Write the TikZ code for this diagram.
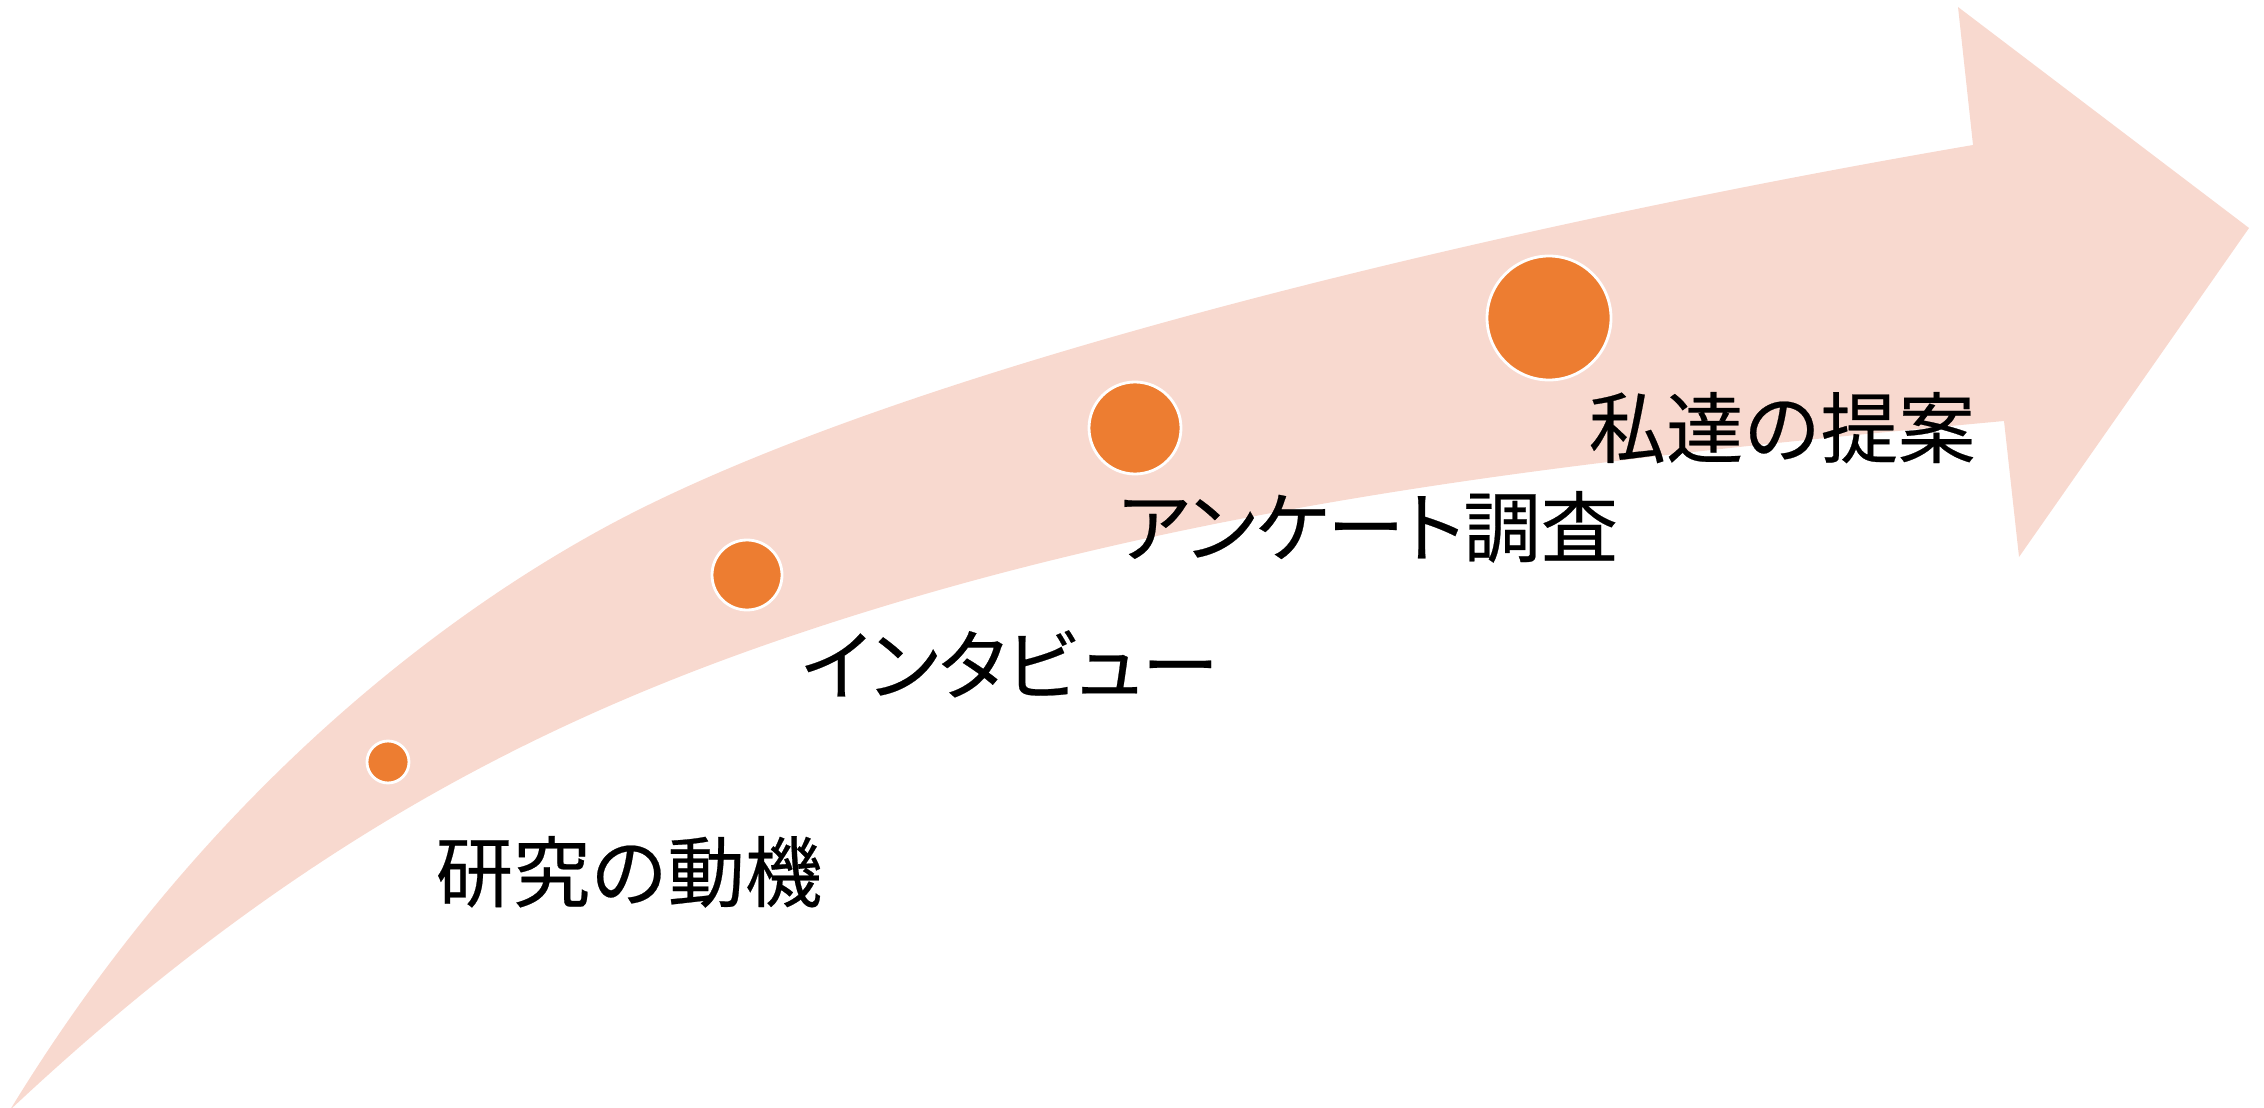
\documentclass[tikz,border=0pt]{standalone}
\usepackage{fontspec}
\newfontfamily\jp[FakeBold=0.3]{Noto Sans CJK JP}
\newfontfamily\jpp[RawFeature=+palt,FakeBold=0.3]{Noto Sans CJK JP}
\definecolor{arrowfill}{HTML}{F8D9CF}
\definecolor{dotorange}{HTML}{ED7D31}
\tikzset{
  dot/.style={circle, fill=dotorange, draw=white, line width=1.6pt, inner sep=0pt},
  lbl/.style={anchor=base, inner sep=0pt, font=\fontsize{44}{50}\selectfont, text=black},
}
\begin{document}
\begin{tikzpicture}[x=0.02cm, y=-0.02cm]
\useasboundingbox (0,0) rectangle (2264,1108);
% curved arrow
\fill[arrowfill]
  (10,1110) .. controls (180,831) and (400,640) .. (600,530)
  .. controls (900,365) and (1523,222) .. (1973,145)
  -- (1958,7) -- (2249,228) -- (2019,557) -- (2004,421)
  .. controls (1604,458) and (1200,499) .. (800,633)
  .. controls (540,720) and (290,847) .. (10,1110)
  -- cycle;
% dots
\node[dot, minimum size=42*0.02cm] (c1) at (388,762) {};
\node[dot, minimum size=70*0.02cm] (c2) at (747,575) {};
\node[dot, minimum size=92*0.02cm] (c3) at (1135,428) {};
\node[dot, minimum size=124*0.02cm] (c4) at (1549,318) {};
% labels
\node[lbl] (t1) at (629,901) {\jp 研究の動機};
\node[lbl] (t2) at (1010,694) {\jpp インタビュー};
\node[lbl] (t3) at (1368,556) {\jpp アンケート調査};
\node[lbl] (t4) at (1782,457) {\jp 私達の提案};
\end{tikzpicture}
\end{document}
